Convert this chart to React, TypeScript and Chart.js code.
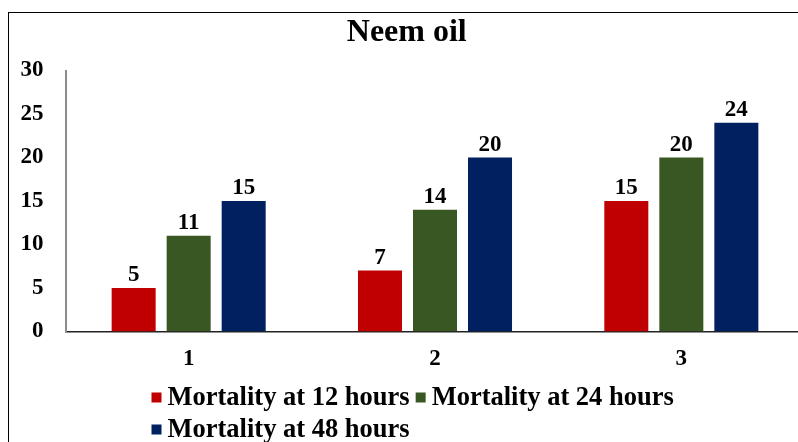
import React, { useEffect, useRef } from "react";
import { Chart, registerables } from "chart.js";

Chart.register(...registerables);

const categories = ["1", "2", "3"];
const mortality12 = [5, 7, 15];
const mortality24 = [11, 14, 20];
const mortality48 = [15, 20, 24];
const seriesLabels = ["Mortality at 12 hours", "Mortality at 24 hours", "Mortality at 48 hours"];
const seriesColors = ["#C00000", "#385723", "#002060"];
const yTicks = [0, 5, 10, 15, 20, 25, 30];
const chartTitle = "Neem oil";

const FONT = "'Liberation Serif', 'Times New Roman', serif";

const valueLabels = {
  id: "valueLabels",
  afterDatasetsDraw(chart: any) {
    const ctx = chart.ctx;
    ctx.save();
    ctx.font = `bold 23px ${FONT}`;
    ctx.fillStyle = "#000";
    ctx.textAlign = "center";
    ctx.textBaseline = "alphabetic";
    chart.data.datasets.forEach((ds: any, i: number) => {
      const meta = chart.getDatasetMeta(i);
      meta.data.forEach((bar: any, j: number) => {
        ctx.fillText(String(ds.data[j]), bar.x, bar.y - 7);
      });
    });
    ctx.restore();
  },
};

const bottomLegend = {
  id: "bottomLegend",
  afterDraw(chart: any) {
    const ctx = chart.ctx;
    ctx.save();
    ctx.font = `bold 26.5px ${FONT}`;
    ctx.textBaseline = "middle";
    ctx.textAlign = "left";
    const startX = 142.5;
    const rowH = 32;
    let y = 384.5;
    let x = startX;
    const maxX = chart.width - 40;
    chart.data.datasets.forEach((ds: any) => {
      const w = 10 + 6 + ctx.measureText(ds.label).width;
      if (x > startX && x + w > maxX) {
        x = startX;
        y += rowH;
      }
      ctx.fillStyle = ds.backgroundColor;
      ctx.fillRect(x, y - 5, 10, 10);
      ctx.fillStyle = "#000";
      ctx.fillText(ds.label, x + 16, y + 1);
      x += w + 6;
    });
    ctx.restore();
  },
};

export default function App() {
  const ref = useRef<HTMLCanvasElement | null>(null);

  useEffect(() => {
    if (!ref.current) return;
    const seriesData = [mortality12, mortality24, mortality48];
    const chart = new Chart(ref.current, {
      type: "bar",
      data: {
        labels: categories,
        datasets: seriesData.map((d, i) => ({
          label: seriesLabels[i],
          data: d,
          backgroundColor: seriesColors[i],
          borderWidth: 0,
          categoryPercentage: 0.67,
          barPercentage: 0.8,
        })),
      },
      options: {
        animation: false,
        responsive: true,
        maintainAspectRatio: false,
        layout: { padding: { left: 0, right: 22.5, top: 0, bottom: 109.5 } },
        plugins: {
          legend: { display: false },
          tooltip: { enabled: false },
          title: {
            display: true,
            text: chartTitle,
            color: "#000",
            font: { family: FONT, size: 32, weight: "bold", lineHeight: 1.2 },
            padding: { top: 1, bottom: 18.1 },
          },
        },
        scales: {
          x: {
            grid: { display: false, drawTicks: false },
            border: { display: true, color: "#222", width: 1.5 },
            ticks: {
              color: "#000",
              padding: 14,
              font: { family: FONT, size: 23, weight: "bold" },
            },
            afterFit: (s: any) => {
              s.height = 40;
            },
          },
          y: {
            min: 0,
            max: 30,
            grid: { display: false, drawTicks: false },
            border: { display: true, color: "#8c8c8c", width: 2 },
            afterBuildTicks: (s: any) => {
              s.ticks = yTicks.map((v) => ({ value: v }));
            },
            ticks: {
              color: "#000",
              padding: 22,
              font: { family: FONT, size: 23, weight: "bold" },
            },
            afterFit: (s: any) => {
              s.width = 56.5;
            },
          },
        },
      },
      plugins: [valueLabels, bottomLegend],
    });
    return () => chart.destroy();
  }, []);

  return (
    <div style={{ position: "fixed", left: 0, top: 0, width: 798, height: 442, overflow: "hidden", background: "#fff" }}>
      <div
        style={{
          position: "absolute",
          left: 8,
          top: 12,
          width: 820,
          height: 470,
          boxSizing: "border-box",
          border: "1.5px solid #000",
        }}
      >
        <canvas ref={ref} />
      </div>
    </div>
  );
}
